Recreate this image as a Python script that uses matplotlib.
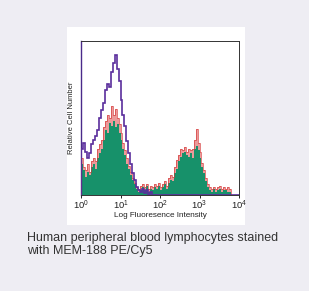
import numpy as np
import matplotlib
matplotlib.use("Agg")
import matplotlib.pyplot as plt

# log10 bin width 0.05 decades, starting at 10^0
bin_width_log = 0.05

purple = [0.30, 0.34, 0.28, 0.24, 0.27, 0.33, 0.36, 0.38, 0.42, 0.50,
          0.55, 0.60, 0.68, 0.72, 0.70, 0.80, 0.86, 0.91, 0.82, 0.74,
          0.62, 0.52, 0.45, 0.35, 0.27, 0.20, 0.14, 0.10, 0.05, 0.03,
          0.02, 0.04, 0.01, 0.03, 0.00, 0.02, 0.00, 0.00, 0.00, 0.00,
          0.00, 0.00, 0.00, 0.00, 0.00, 0.00, 0.00, 0.00, 0.00, 0.00,
          0.00, 0.00, 0.00, 0.00, 0.00, 0.00, 0.00, 0.00, 0.00, 0.00,
          0.00, 0.00, 0.00, 0.00, 0.00, 0.00, 0.00, 0.00, 0.00, 0.00,
          0.00, 0.00, 0.00, 0.00, 0.00, 0.00, 0.00, 0.00, 0.00, 0.00]

green = [0.20, 0.16, 0.12, 0.15, 0.13, 0.18, 0.20, 0.17, 0.24, 0.27,
         0.30, 0.36, 0.42, 0.40, 0.47, 0.45, 0.48, 0.44, 0.46, 0.40,
         0.36, 0.30, 0.26, 0.20, 0.17, 0.13, 0.10, 0.07, 0.04, 0.02,
         0.03, 0.05, 0.03, 0.06, 0.02, 0.04, 0.03, 0.05, 0.04, 0.06,
         0.03, 0.05, 0.07, 0.04, 0.08, 0.10, 0.09, 0.14, 0.17, 0.22,
         0.25, 0.27, 0.28, 0.26, 0.25, 0.27, 0.24, 0.30, 0.32, 0.29,
         0.24, 0.18, 0.14, 0.09, 0.05, 0.03, 0.02, 0.04, 0.02, 0.03,
         0.04, 0.02, 0.03, 0.03, 0.02, 0.02, 0.00, 0.00, 0.00, 0.00]

red = [0.24, 0.18, 0.16, 0.20, 0.15, 0.22, 0.24, 0.22, 0.30, 0.33,
       0.36, 0.44, 0.48, 0.52, 0.50, 0.58, 0.52, 0.56, 0.50, 0.46,
       0.40, 0.34, 0.29, 0.24, 0.19, 0.15, 0.11, 0.08, 0.05, 0.04,
       0.06, 0.07, 0.05, 0.07, 0.04, 0.06, 0.05, 0.07, 0.06, 0.08,
       0.05, 0.07, 0.09, 0.06, 0.11, 0.13, 0.12, 0.18, 0.23, 0.26,
       0.30, 0.29, 0.31, 0.28, 0.30, 0.29, 0.30, 0.36, 0.43, 0.34,
       0.28, 0.21, 0.16, 0.11, 0.07, 0.05, 0.04, 0.05, 0.04, 0.05,
       0.06, 0.04, 0.05, 0.04, 0.05, 0.04, 0.00, 0.00, 0.00, 0.00]

xtick_vals = [1, 10, 100, 1000, 10000]
xtick_labels = [r"$10^0$", r"$10^1$", r"$10^2$", r"$10^3$", r"$10^4$"]
caption = "Human peripheral blood lymphocytes stained\nwith MEM-188 PE/Cy5"

plt.rcParams['font.family'] = ['Liberation Sans', 'DejaVu Sans']
plt.rcParams['mathtext.fontset'] = 'custom'
plt.rcParams['mathtext.rm'] = 'Liberation Sans'
plt.rcParams['mathtext.it'] = 'Liberation Sans'

W, H = 309, 291
fig = plt.figure(figsize=(W / 100, H / 100), dpi=100)
fig.patch.set_facecolor('#eeedf3')

# white panel as a background axes
bg = fig.add_axes([67 / W, 1 - 225 / H, (245 - 67) / W, (225 - 27) / H], zorder=-5)
bg.set_facecolor('white')
bg.set_xticks([])
bg.set_yticks([])
for s in bg.spines.values():
    s.set_visible(False)

ax = fig.add_axes([81 / W, 1 - 195 / H, (239 - 81) / W, (195 - 41) / H], zorder=1)
ax.set_facecolor('white')

edges = 10 ** (np.arange(len(green) + 1) * bin_width_log)

ax.stairs(red, edges, fill=True, color='#eb9a9a', zorder=1)
ax.stairs(green, edges, fill=True, color='#17916a', zorder=2)
ax.stairs(red, edges, color='#d43535', linewidth=0.6, alpha=0.75, zorder=3)
ax.stairs(purple, edges, color='#5a2e9c', linewidth=1.2, zorder=4)

ax.set_xscale('log')
ax.set_xlim(1, 1e4)
ax.set_ylim(0, 1)
ax.set_xticks(xtick_vals)
ax.set_xticklabels(xtick_labels, fontsize=6.8, color='#222222')
ax.xaxis.set_minor_locator(matplotlib.ticker.NullLocator())
ax.tick_params(axis='x', length=2, width=0.6, pad=1, direction='out')
ax.set_yticks([])
for s in ax.spines.values():
    s.set_linewidth(0.7)
    s.set_color('#333333')
ax.spines['left'].set_color('#4a2a8a')
ax.spines['left'].set_linewidth(1.0)

ax.set_xlabel("Log Fluoresence Intensity", fontsize=5.9, color='#222222', labelpad=0)
ax.set_ylabel("Relative Cell Number", fontsize=5.5, color='#222222', labelpad=4)

fig.text(27 / W, 1 - 232 / H, caption, fontsize=9.0, color='#333333',
         va='top', ha='left', linespacing=1.1)

fig.savefig('out.png', dpi=100, facecolor=fig.get_facecolor())
